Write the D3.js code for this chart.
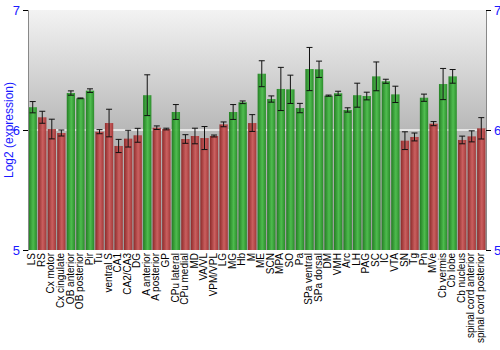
<!DOCTYPE html>
<html><head><meta charset="utf-8">
<script src="https://cdn.jsdelivr.net/npm/d3@7"></script>
<style>body{margin:0;background:#fff}svg{display:block}</style>
</head><body>
<script>
const regions = ["LS","RS","Cx motor","Cx cingulate","OB anterior","OB posterior","Pir","Tu","ventral S","CA1","CA2/CA3","DG","A anterior","A posterior","GP","CPu lateral","CPu medial","MD","VA/VL","VPM/VPL","LG","MG","Hb","M","ME","SCN","MPA","SO","Pa","SPa ventral","SPa dorsal","DM","VMH","Arc","LH","PAG","SC","IC","VTA","SN","Tg","Pn","MVe","Cb vermis","Cb lobe","Cb nucleus","spinal cord anterior","spinal cord posterior"];
const expression = [6.19,6.106,6.008,5.975,6.308,6.264,6.328,5.986,6.058,5.867,5.928,5.956,6.29,6.019,6.008,6.15,5.925,5.95,5.933,5.95,6.047,6.15,6.231,6.058,6.469,6.258,6.342,6.339,6.183,6.508,6.506,6.286,6.306,6.167,6.29,6.283,6.447,6.406,6.297,5.911,5.942,6.269,6.053,6.383,6.447,5.917,5.947,6.014];
const stdError = [0.047,0.05,0.082,0.025,0.018,0.003,0.015,0.017,0.115,0.055,0.07,0.058,0.17,0.015,0.007,0.062,0.036,0.065,0.096,0.008,0.02,0.062,0.011,0.07,0.108,0.026,0.18,0.118,0.039,0.18,0.068,0.005,0.017,0.018,0.1,0.032,0.12,0.017,0.068,0.074,0.033,0.03,0.017,0.13,0.057,0.032,0.046,0.089];
const yTicks = [5,6,7];
const threshold = 6.12;

const W=500,H=350, m={l:28,r:14,t:10,b:100};
const svg=d3.select("body").append("svg").attr("width",W).attr("height",H);
const defs=svg.append("defs");
const bg=defs.append("linearGradient").attr("id","bg").attr("x1",0).attr("y1",0).attr("x2",0).attr("y2",1);
bg.append("stop").attr("offset","0%").attr("stop-color","#f3f3f3");
bg.append("stop").attr("offset","50%").attr("stop-color","#b8b8b8");
bg.append("stop").attr("offset","100%").attr("stop-color","#9a9a9a");
function barGrad(id,c0,c1,c2){
  const g=defs.append("linearGradient").attr("id",id).attr("x1",0).attr("y1",0).attr("x2",1).attr("y2",0);
  g.append("stop").attr("offset","0%").attr("stop-color",c0);
  g.append("stop").attr("offset","55%").attr("stop-color",c1);
  g.append("stop").attr("offset","100%").attr("stop-color",c2);
}
barGrad("gG","#1c7c1c","#4abd4a","#248a24");
barGrad("gR","#8c2424","#cc5c5c","#a33333");

const x=d3.scaleBand().domain(regions).range([m.l,W-m.r]).paddingInner(0.13).paddingOuter(0.06);
const y=d3.scaleLinear().domain([5,7]).range([H-m.b,m.t]);

svg.append("rect").attr("x",m.l).attr("y",m.t).attr("width",W-m.r-m.l).attr("height",H-m.b-m.t).attr("fill","url(#bg)");
svg.append("line").attr("x1",m.l).attr("x2",W-m.r).attr("y1",y(6)).attr("y2",y(6)).attr("stroke","#f4f4f4").attr("stroke-width",1.5);

const data=regions.map((r,i)=>({r,v:expression[i],e:stdError[i]}));
svg.append("g").selectAll("rect").data(data).join("rect")
  .attr("x",d=>x(d.r)).attr("width",x.bandwidth())
  .attr("y",d=>y(d.v)).attr("height",d=>y(5)-y(d.v))
  .attr("fill",d=>d.v>threshold?"url(#gG)":"url(#gR)").attr("opacity",0.95);

const eb=svg.append("g").attr("stroke","#111").attr("stroke-width",1);
data.forEach(d=>{
  const cx=x(d.r)+x.bandwidth()/2;
  eb.append("line").attr("x1",cx).attr("x2",cx).attr("y1",y(d.v+d.e)).attr("y2",y(d.v-d.e));
  eb.append("line").attr("x1",cx-3).attr("x2",cx+3).attr("y1",y(d.v+d.e)).attr("y2",y(d.v+d.e));
  eb.append("line").attr("x1",cx-3).attr("x2",cx+3).attr("y1",y(d.v-d.e)).attr("y2",y(d.v-d.e));
});

const yl=svg.append("g").attr("transform",`translate(${m.l},0)`).call(d3.axisLeft(y).tickValues(yTicks).tickFormat(d3.format("d")).tickSize(5));
const yr=svg.append("g").attr("transform",`translate(${W-m.r},0)`).call(d3.axisRight(y).tickValues(yTicks).tickFormat(d3.format("d")).tickSize(5));
[yl,yr].forEach(g=>{
  g.select(".domain").attr("stroke","#888");
  g.selectAll(".tick line").attr("stroke","#000");
  g.selectAll("text").attr("fill","#1a1aff").attr("font-family","Liberation Sans, Arial, sans-serif").attr("font-size",13);
});

const xa=svg.append("g").attr("transform",`translate(0,${H-m.b})`).call(d3.axisBottom(x).tickSize(0));
xa.select(".domain").remove();
xa.selectAll("text").attr("font-family","Liberation Sans, Arial, sans-serif").attr("font-size",10).attr("fill","#000")
  .attr("transform","rotate(-90)").attr("text-anchor","end").attr("dx","-0.3em").attr("dy",0).attr("x",0).attr("y",0).attr("dominant-baseline","middle");

svg.append("text").attr("transform",`translate(13,${(m.t+H-m.b)/2}) rotate(-90)`).attr("text-anchor","middle")
  .attr("font-family","Liberation Sans, Arial, sans-serif").attr("font-size",12).attr("fill","#1a1aff").text("Log2 (expression)");
</script>
</body></html>
